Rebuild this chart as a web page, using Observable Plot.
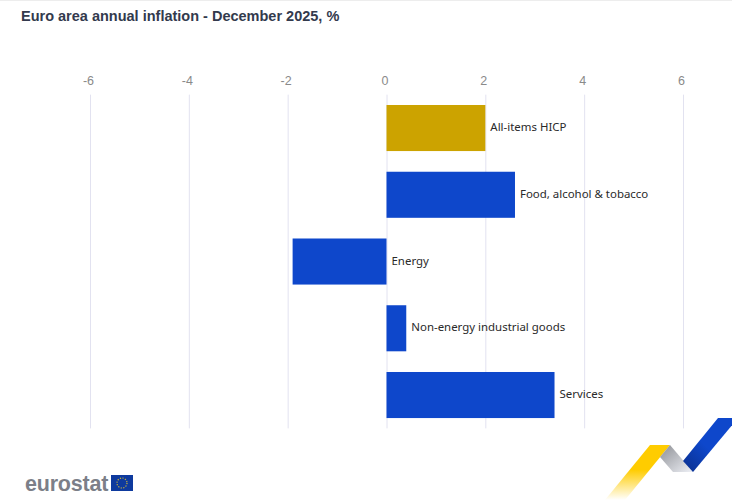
<!DOCTYPE html>
<html>
<head>
<meta charset="utf-8">
<script src="https://cdn.jsdelivr.net/npm/d3@7"></script>
<script src="https://cdn.jsdelivr.net/npm/@observablehq/plot@0.6"></script>
<style>
html,body{margin:0;padding:0;background:#fff;width:732px;height:503px;overflow:hidden}
body{position:relative;border-top:1px solid #ededed;box-sizing:border-box}
#title{height:25px;padding:7px 0 0 21px;box-sizing:border-box;font:bold 14.5px "Liberation Sans",Arial,sans-serif;color:#333a4d;line-height:16px;white-space:nowrap}
#chart svg{display:block}
#brand{position:absolute;left:25px;top:470px;font:bold 21.5px "Liberation Sans",Arial,sans-serif;color:#7c7f88;line-height:26px;letter-spacing:-.2px}
#deco{position:absolute;left:0;top:-1px;pointer-events:none}
</style>
</head>
<body>
<div id="title">Euro area annual inflation - December 2025, %</div>
<div id="chart"></div>
<div id="brand">eurostat</div>
<svg id="deco" width="732" height="503" aria-hidden="true">
  <defs>
    <linearGradient id="gy" x1="0" y1="1" x2="0" y2="0"><stop offset="0" stop-color="#ffcc00" stop-opacity="0"/><stop offset=".55" stop-color="#ffcc00"/></linearGradient>
    <linearGradient id="gg" x1="0" y1="0" x2="1" y2="1"><stop offset="0" stop-color="#8d8f94"/><stop offset="1" stop-color="#eef0f6"/></linearGradient>
    <linearGradient id="gb" x1="1" y1="0" x2="0" y2="1"><stop offset=".55" stop-color="#0e47cb"/><stop offset="1" stop-color="#0a2f8c"/></linearGradient>
  </defs>
  <polygon points="650,445 670,445 625,500 605,500" fill="url(#gy)"/>
  <polygon points="670,445 693,472 673,472 660,457" fill="url(#gg)"/>
  <polygon points="718,418 738,418 693,472 683,461" fill="url(#gb)"/>
  <rect x="111" y="475" width="22" height="16" fill="#0e3a9e"/>
  <circle cx="122" cy="483" r="5" fill="none" stroke="#c9b23c" stroke-width="1.2" stroke-dasharray="1.2 1.4"/>
</svg>
<script>
const categories = ["All-items HICP","Food, alcohol & tobacco","Energy","Non-energy industrial goods","Services"];
const values = [2.0,2.6,-1.9,0.4,3.4];
const groups = ["Total","Component","Component","Component","Component"];
const xTicks = [-6,-4,-2,0,2,4,6];
const rows = categories.map((c,i)=>({category:c,value:values[i],group:groups[i]}));

const plot = Plot.plot({
  width:732,
  height:420,
  marginTop:68.65,
  marginBottom:17.6,
  marginLeft:90,
  marginRight:49,
  style:{background:"transparent"},
  x:{domain:[-6,6],axis:null},
  y:{domain:categories,axis:null,paddingInner:0.31,paddingOuter:0.155,round:false},
  color:{domain:["Total","Component"],range:["#cca300","#0e47cb"]},
  marks:[
    Plot.ruleX(xTicks,{stroke:"#e2e2f0",strokeWidth:1}),
    Plot.axisX({anchor:"top",ticks:xTicks,tickSize:0,tickPadding:10.5,dx:-2,label:null,tickFormat:d=>String(d),
      fontFamily:"Liberation Sans, Arial, sans-serif",fontSize:12.5,fill:"#8a8a8a",color:"#8a8a8a"}),
    Plot.barX(rows,{x:"value",y:"category",fill:"group"}),
    Plot.text(rows,{x:d=>Math.max(d.value,0),y:"category",text:"category",textAnchor:"start",dx:4.5,dy:-1,
      fontFamily:"Noto Sans, sans-serif",fontSize:11.45,fill:"#2a2a2a"})
  ]
});
document.getElementById("chart").appendChild(plot);
</script>
</body>
</html>
